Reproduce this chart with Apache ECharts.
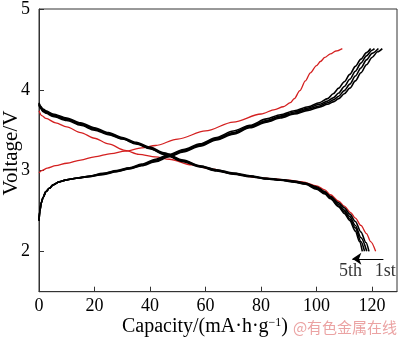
<!DOCTYPE html>
<html>
<head>
<meta charset="utf-8">
<script src="https://cdn.jsdelivr.net/npm/echarts@6/dist/echarts.min.js"></script>
<style>
  html, body { margin: 0; padding: 0; background: #fff; }
  #chart { width: 400px; height: 339px; }
</style>
</head>
<body>
<div id="chart"></div>
<script>
// Charge/discharge profiles: capacity (mA·h/g) and voltage (V) per cycle.

// 1st cycle (red)
const c1ChargeCap = [0, 1, 3, 6, 10, 15, 20, 26, 31, 37, 42, 50, 60, 70, 80, 85, 88, 90.6, 92, 94, 96, 97.8, 100, 101.4, 103, 105, 107, 109.3];
const c1ChargeV   = [2.97, 3.0, 3.03, 3.06, 3.09, 3.13, 3.17, 3.21, 3.24, 3.28, 3.31, 3.39, 3.49, 3.60, 3.70, 3.755, 3.79, 3.84, 3.89, 3.99, 4.11, 4.21, 4.30, 4.35, 4.40, 4.445, 4.48, 4.51];
const c1DisCap = [0, 1, 2.5, 6, 10, 15, 20, 25, 31, 36, 42, 47, 55, 62, 70, 78, 85, 90, 95, 100, 103, 105, 108, 110, 112.3, 114, 116, 118, 119.5, 121.3];
const c1DisV   = [3.74, 3.68, 3.645, 3.59, 3.54, 3.47, 3.40, 3.33, 3.25, 3.20, 3.17, 3.14, 3.07, 3.02, 2.96, 2.915, 2.895, 2.88, 2.86, 2.81, 2.76, 2.70, 2.62, 2.56, 2.48, 2.41, 2.32, 2.22, 2.12, 2.00];

// 2nd-5th cycles (black): charge
const c2ChargeCap = [0, 0.3, 0.8, 1.5, 2.5, 3.7, 5, 7.3, 10, 13.4, 18, 23, 28, 32.6, 37, 42, 47, 52, 58, 64, 70, 76, 82, 87, 92, 97, 101, 104, 106, 108, 110, 112, 114, 116, 118, 120, 122, 123.7];
const c2ChargeV   = [2.38, 2.50, 2.60, 2.67, 2.74, 2.78, 2.82, 2.86, 2.885, 2.905, 2.925, 2.95, 2.985, 3.02, 3.06, 3.11, 3.17, 3.23, 3.30, 3.38, 3.45, 3.53, 3.60, 3.65, 3.70, 3.745, 3.785, 3.82, 3.85, 3.89, 3.95, 4.02, 4.11, 4.21, 4.31, 4.40, 4.47, 4.51];
const c3ChargeCap = [0, 0.3, 0.8, 1.5, 2.5, 3.7, 5, 7.3, 10, 13.4, 18, 23, 28, 32.6, 37, 42, 47, 52, 58, 64, 70, 76, 82, 87, 92, 97, 101, 104, 106, 108, 110, 112, 114, 116, 118, 120, 122.3];
const c3ChargeV   = [2.38, 2.50, 2.60, 2.67, 2.74, 2.78, 2.82, 2.86, 2.885, 2.905, 2.925, 2.955, 2.99, 3.025, 3.065, 3.12, 3.18, 3.24, 3.31, 3.39, 3.46, 3.54, 3.61, 3.665, 3.71, 3.76, 3.80, 3.84, 3.875, 3.92, 3.99, 4.07, 4.17, 4.27, 4.37, 4.45, 4.51];
const c4ChargeCap = [0, 0.3, 0.8, 1.5, 2.5, 3.7, 5, 7.3, 10, 13.4, 18, 23, 28, 32.6, 37, 42, 47, 52, 58, 64, 70, 76, 82, 87, 92, 97, 101, 104, 106, 108, 110, 112, 114, 116, 118, 120, 120.9];
const c4ChargeV   = [2.38, 2.50, 2.60, 2.67, 2.74, 2.78, 2.82, 2.86, 2.885, 2.905, 2.93, 2.96, 2.995, 3.03, 3.07, 3.13, 3.19, 3.25, 3.32, 3.40, 3.47, 3.55, 3.62, 3.675, 3.725, 3.775, 3.82, 3.86, 3.90, 3.96, 4.04, 4.13, 4.23, 4.33, 4.42, 4.49, 4.51];
const c5ChargeCap = [0, 0.3, 0.8, 1.5, 2.5, 3.7, 5, 7.3, 10, 13.4, 18, 23, 28, 32.6, 37, 42, 47, 52, 58, 64, 70, 76, 82, 87, 92, 97, 101, 104, 106, 108, 110, 112, 114, 116, 118, 119.5];
const c5ChargeV   = [2.38, 2.50, 2.60, 2.67, 2.74, 2.78, 2.82, 2.86, 2.885, 2.905, 2.93, 2.965, 3.0, 3.035, 3.08, 3.14, 3.20, 3.26, 3.33, 3.41, 3.49, 3.56, 3.64, 3.69, 3.74, 3.79, 3.84, 3.89, 3.95, 4.02, 4.10, 4.19, 4.29, 4.38, 4.46, 4.51];

// 2nd-5th cycles (black): discharge
const c2DisCap = [0, 0.5, 1.5, 2.5, 5, 10, 15, 20, 25, 30, 35, 40, 45, 52, 58, 64, 70, 76, 82, 87, 92, 96, 100, 103, 105, 108, 110, 112, 114, 116, 117.8, 118.9];
const c2DisV   = [3.84, 3.80, 3.76, 3.74, 3.70, 3.65, 3.59, 3.53, 3.47, 3.41, 3.35, 3.29, 3.22, 3.13, 3.06, 3.01, 2.97, 2.935, 2.905, 2.89, 2.87, 2.845, 2.80, 2.74, 2.68, 2.60, 2.54, 2.46, 2.37, 2.24, 2.11, 2.00];
const c3DisCap = [0, 0.5, 1.5, 2.5, 5, 10, 15, 20, 25, 30, 35, 40, 45, 52, 58, 64, 70, 76, 82, 87, 92, 96, 100, 103, 105, 108, 110, 112, 114, 116, 118.1];
const c3DisV   = [3.83, 3.79, 3.75, 3.73, 3.69, 3.64, 3.58, 3.52, 3.46, 3.40, 3.34, 3.28, 3.21, 3.12, 3.055, 3.005, 2.965, 2.93, 2.90, 2.885, 2.865, 2.84, 2.79, 2.73, 2.67, 2.58, 2.51, 2.43, 2.32, 2.17, 2.00];
const c4DisCap = [0, 0.5, 1.5, 2.5, 5, 10, 15, 20, 25, 30, 35, 40, 45, 52, 58, 64, 70, 76, 82, 87, 92, 96, 100, 103, 105, 108, 110, 112, 114, 116, 117.3];
const c4DisV   = [3.82, 3.78, 3.74, 3.72, 3.68, 3.63, 3.57, 3.51, 3.455, 3.395, 3.335, 3.275, 3.205, 3.115, 3.05, 3.0, 2.96, 2.93, 2.90, 2.885, 2.86, 2.835, 2.78, 2.72, 2.66, 2.56, 2.49, 2.40, 2.29, 2.12, 2.00];
const c5DisCap = [0, 0.5, 1.5, 2.5, 5, 10, 15, 20, 25, 30, 35, 40, 45, 52, 58, 64, 70, 76, 82, 87, 92, 96, 100, 103, 105, 108, 110, 112, 114, 115.5, 116.5];
const c5DisV   = [3.81, 3.77, 3.73, 3.71, 3.67, 3.62, 3.56, 3.50, 3.445, 3.39, 3.33, 3.27, 3.20, 3.11, 3.045, 2.995, 2.955, 2.925, 2.895, 2.88, 2.855, 2.83, 2.77, 2.71, 2.65, 2.55, 2.47, 2.38, 2.25, 2.12, 2.00];

// Axis ticks
const xTicks = [0, 20, 40, 60, 80, 100, 120];
const yTicks = [2, 3, 4, 5];

// Cycle-order annotation (arrow from 1st towards 5th)
const arrowFrom = [124.1, 1.907];
const arrowTo = [112.9, 1.907];
const cycleLabels = [
  { name: '5th', value: [112.2, 1.758] },
  { name: '1st', value: [124.8, 1.758] }
];

const SERIF = '"Liberation Serif", "Times New Roman", serif';
const RED = '#d42020';
const BLACK = '#000';
const INK = '#000';

function pairs(caps, volts) {
  return caps.map((c, i) => [c, volts[i]]);
}

function curve(name, caps, volts, color, width) {
  return {
    name: name,
    type: 'line',
    data: pairs(caps, volts),
    showSymbol: false,
    symbol: 'none',
    smooth: 0.3,
    smoothMonotone: 'x',
    lineStyle: { color: color, width: width },
    silent: true,
    animation: false
  };
}

const chart = echarts.init(document.getElementById('chart'), null, { renderer: 'canvas' });

chart.setOption({
  animation: false,
  backgroundColor: '#fff',
  grid: {
    left: 39, right: 3, top: 5.3, bottom: 47.3,
    show: true, borderColor: '#333', borderWidth: 1, backgroundColor: 'transparent'
  },
  xAxis: {
    type: 'value',
    min: 0, max: 129, interval: 20,
    axisLine: { show: true, lineStyle: { color: '#333', width: 1 } },
    axisTick: { show: true, inside: true, length: 5, customValues: xTicks, lineStyle: { color: '#333' } },
    axisLabel: { show: true, customValues: xTicks, fontFamily: SERIF, fontSize: 18, color: INK, margin: 6 },
    splitLine: { show: false }
  },
  yAxis: {
    type: 'value',
    min: 1.5, max: 5, interval: 0.5,
    axisLine: { show: true, lineStyle: { color: '#333', width: 1 } },
    axisTick: { show: true, inside: true, length: 5, customValues: yTicks, lineStyle: { color: '#333' } },
    axisLabel: { show: true, customValues: yTicks, fontFamily: SERIF, fontSize: 18, color: INK, margin: 9 },
    splitLine: { show: false }
  },
  series: [
    curve('1st charge', c1ChargeCap, c1ChargeV, RED, 1.3),
    curve('1st discharge', c1DisCap, c1DisV, RED, 1.3),
    curve('2nd charge', c2ChargeCap, c2ChargeV, BLACK, 1.6),
    curve('3rd charge', c3ChargeCap, c3ChargeV, BLACK, 1.6),
    curve('4th charge', c4ChargeCap, c4ChargeV, BLACK, 1.6),
    curve('5th charge', c5ChargeCap, c5ChargeV, BLACK, 1.6),
    curve('2nd discharge', c2DisCap, c2DisV, BLACK, 1.6),
    curve('3rd discharge', c3DisCap, c3DisV, BLACK, 1.6),
    curve('4th discharge', c4DisCap, c4DisV, BLACK, 1.6),
    curve('5th discharge', c5DisCap, c5DisV, BLACK, 1.6),
    {
      name: 'cycle order',
      type: 'line',
      data: [arrowFrom, arrowTo],
      showSymbol: false,
      symbol: 'none',
      lineStyle: { width: 0, opacity: 0 },
      silent: true,
      markLine: {
        silent: true,
        symbol: ['none', 'arrow'],
        symbolSize: 9,
        label: { show: false },
        lineStyle: { color: INK, width: 1, type: 'solid', opacity: 1 },
        data: [[{ coord: arrowFrom }, { coord: arrowTo }]]
      }
    },
    {
      name: 'cycle labels',
      type: 'scatter',
      data: cycleLabels,
      symbolSize: 0,
      itemStyle: { color: 'transparent' },
      silent: true,
      label: {
        show: true, position: 'inside', formatter: '{b}',
        fontFamily: SERIF, fontSize: 18, color: INK,
        textBorderWidth: 0
      }
    }
  ],
  graphic: [
    {
      type: 'text',
      x: 11, y: 153,
      rotation: Math.PI / 2,
      style: {
        text: 'Voltage/V',
        font: '21px ' + SERIF,
        fill: INK,
        align: 'center',
        verticalAlign: 'middle'
      }
    },
    {
      type: 'text',
      x: 205, y: 327,
      style: {
        text: '{m|Capacity/(mA·h·g}{s|−1}{m|)}',
        rich: {
          m: { fontFamily: SERIF, fontSize: 20, fill: INK },
          s: { fontFamily: SERIF, fontSize: 12, fill: INK, verticalAlign: 'top' }
        },
        align: 'center',
        verticalAlign: 'middle'
      }
    },
    {
      type: 'text',
      x: 345, y: 327,
      style: {
        text: '@有色金属在线',
        font: '15px "Noto Sans CJK SC", sans-serif',
        fill: '#eba3a3',
        align: 'center',
        verticalAlign: 'middle'
      }
    }
  ]
});
</script>
</body>
</html>
